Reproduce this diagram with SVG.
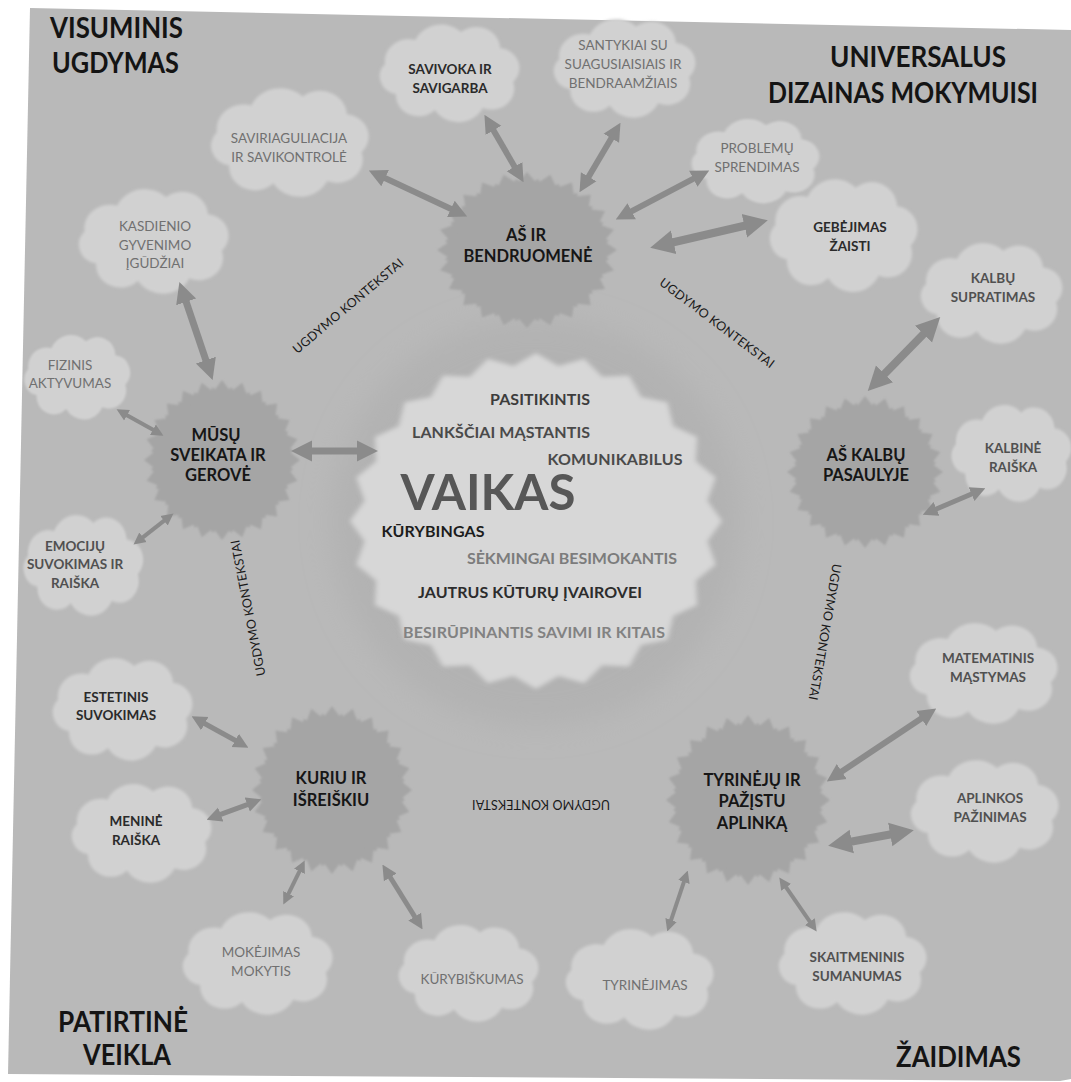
<svg xmlns="http://www.w3.org/2000/svg" xmlns:xlink="http://www.w3.org/1999/xlink" width="1071" height="1082" viewBox="0 0 1071 1082">
<defs>
<style>
text{font-family:Lato,"Open Sans","Liberation Sans",sans-serif;}
.title{font-size:28px;font-weight:bold;fill:#141414;}
.star-t{font-size:16.5px;font-weight:bold;fill:#161616;text-anchor:middle;}
.c{font-size:13.5px;text-anchor:middle;}
.cb{font-weight:bold;}
.k1{fill:#2a2a2a;}
.k2{fill:#505050;}
.k3{fill:#707070;}
.ctx{font-size:12.5px;fill:#1a1a1a;text-anchor:middle;}
.cl{fill:#d1d1d1;filter:url(#soft);}
.st{fill:#a5a5a5;filter:url(#soft);}
.v{font-size:16px;font-weight:bold;text-anchor:middle;}
.arr{stroke:#8b8b8b;fill:none;marker-start:url(#ah);marker-end:url(#ah);}
</style>
<filter id="soft" x="-10%" y="-10%" width="120%" height="120%"><feGaussianBlur stdDeviation="1.4"/></filter>
<filter id="halo" x="-30%" y="-30%" width="160%" height="160%"><feGaussianBlur stdDeviation="14"/></filter>
<marker id="ah" viewBox="0 0 10 10" refX="0.5" refY="5" markerWidth="3" markerHeight="3.4" markerUnits="strokeWidth" orient="auto-start-reverse"><path d="M0,0 L10,5 L0,10 Z" fill="#8b8b8b"/></marker>
<path id="cloud" d="M-48,22 A18,18 0 0 1 -58,-8 A22,22 0 0 1 -30,-32 A26,26 0 0 1 12,-40 A22,22 0 0 1 48,-24 A20,20 0 0 1 60,10 A21,21 0 0 1 32,36 A25,25 0 0 1 -12,38 A21,21 0 0 1 -48,22 Z"/>
<polygon id="star1" points="100,0 85.3,11.2 96.6,25.9 79.5,32.9 86.6,50 68.2,52.4 70.7,70.7 52.4,68.2 50,86.6 32.9,79.5 25.9,96.6 11.2,85.3 0,100 -11.2,85.3 -25.9,96.6 -32.9,79.5 -50,86.6 -52.4,68.2 -70.7,70.7 -68.2,52.4 -86.6,50 -79.5,32.9 -96.6,25.9 -85.3,11.2 -100,0 -85.3,-11.2 -96.6,-25.9 -79.5,-32.9 -86.6,-50 -68.2,-52.4 -70.7,-70.7 -52.4,-68.2 -50,-86.6 -32.9,-79.5 -25.9,-96.6 -11.2,-85.3 0,-100 11.2,-85.3 25.9,-96.6 32.9,-79.5 50,-86.6 52.4,-68.2 70.7,-70.7 68.2,-52.4 86.6,-50 79.5,-32.9 96.6,-25.9 85.3,-11.2"/>
<g id="star">
<use href="#star1"/>
<use href="#star1" transform="rotate(7.5) scale(0.92)"/>
</g>
<polygon id="burst" points="100,0 92.2,12.1 96.6,25.9 85.9,35.6 86.6,50 73.8,56.6 70.7,70.7 56.6,73.8 50,86.6 35.6,85.9 25.9,96.6 12.1,92.2 0,100 -12.1,92.2 -25.9,96.6 -35.6,85.9 -50,86.6 -56.6,73.8 -70.7,70.7 -73.8,56.6 -86.6,50 -85.9,35.6 -96.6,25.9 -92.2,12.1 -100,0 -92.2,-12.1 -96.6,-25.9 -85.9,-35.6 -86.6,-50 -73.8,-56.6 -70.7,-70.7 -56.6,-73.8 -50,-86.6 -35.6,-85.9 -25.9,-96.6 -12.1,-92.2 0,-100 12.1,-92.2 25.9,-96.6 35.6,-85.9 50,-86.6 56.6,-73.8 70.7,-70.7 73.8,-56.6 86.6,-50 85.9,-35.6 96.6,-25.9 92.2,-12.1"/>
</defs>

<rect x="0" y="0" width="1071" height="1082" fill="#ffffff"/>
<polygon points="30,8 1071,30 1071,1079 1060,1081 8,1074" fill="#b9b9b9"/>
<circle cx="536" cy="522" r="205" fill="#b2b2b2" filter="url(#halo)"/>

<g id="titles">
<text class="title" x="50" y="38" textLength="133" lengthAdjust="spacingAndGlyphs">VISUMINIS</text>
<text class="title" x="52" y="73" textLength="127" lengthAdjust="spacingAndGlyphs">UGDYMAS</text>
<text class="title" x="830" y="67" textLength="176" lengthAdjust="spacingAndGlyphs">UNIVERSALUS</text>
<text class="title" x="768" y="103" font-size="25" textLength="270" lengthAdjust="spacingAndGlyphs">DIZAINAS MOKYMUISI</text>
<text class="title" x="58" y="1032" textLength="130" lengthAdjust="spacingAndGlyphs">PATIRTINĖ</text>
<text class="title" x="83" y="1065" textLength="88" lengthAdjust="spacingAndGlyphs">VEIKLA</text>
<text class="title" x="896" y="1067" textLength="125" lengthAdjust="spacingAndGlyphs">ŽAIDIMAS</text>
</g>

<g id="contexts">
<text class="ctx" transform="translate(348,306) rotate(-40)" dy="0.35em" textLength="140">UGDYMO KONTEKSTAI</text>
<text class="ctx" transform="translate(717,323) rotate(37)" dy="0.35em" textLength="140">UGDYMO KONTEKSTAI</text>
<text class="ctx" transform="translate(825,632) rotate(100)" dy="0.35em" textLength="138">UGDYMO KONTEKSTAI</text>
<text class="ctx" transform="translate(248,608) rotate(-101)" dy="0.35em" textLength="138">UGDYMO KONTEKSTAI</text>
<text class="ctx" transform="translate(541,804) rotate(180)" dy="0.35em" textLength="138">UGDYMO KONTEKSTAI</text>
</g>

<g id="vaikas">
<use href="#burst" transform="translate(536,521) scale(1.86,1.68)" fill="#d7d7d7" filter="url(#soft)"/>
<text class="v" x="540" y="405" fill="#3c3c3c" textLength="100">PASITIKINTIS</text>
<text class="v" x="501" y="438" fill="#4a4a4a" textLength="178">LANKŠČIAI MĄSTANTIS</text>
<text class="v" x="615" y="465" fill="#4a4a4a" textLength="135">KOMUNIKABILUS</text>
<text x="488" y="510" font-size="50" font-weight="bold" fill="#575757" text-anchor="middle" textLength="175" lengthAdjust="spacingAndGlyphs">VAIKAS</text>
<text class="v" x="433" y="537" fill="#1c1c1c" textLength="103">KŪRYBINGAS</text>
<text class="v" x="572" y="564" fill="#7c7c7c" textLength="210">SĖKMINGAI BESIMOKANTIS</text>
<text class="v" x="530" y="598" fill="#2c2c2c" textLength="224">JAUTRUS KŪTURŲ ĮVAIROVEI</text>
<text class="v" x="534" y="638" fill="#828282" textLength="262">BESIRŪPINANTIS SAVIMI IR KITAIS</text>
</g>

<g id="star-bendruomene">
<use href="#star" class="st" transform="translate(527,250) scale(0.9,0.78)"/>
<text class="star-t" x="526" y="241">AŠ IR</text>
<text class="star-t" x="528" y="262">BENDRUOMENĖ</text>
</g>
<g id="star-sveikata">
<use href="#star" class="st" transform="translate(222,460) scale(0.78,0.8)"/>
<text class="star-t" x="216" y="441">MŪSŲ</text>
<text class="star-t" x="218" y="461">SVEIKATA IR</text>
<text class="star-t" x="218" y="481">GEROVĖ</text>
</g>
<g id="star-kalbu">
<use href="#star" class="st" transform="translate(865,472) scale(0.78,0.76)"/>
<text class="star-t" x="866" y="461">AŠ KALBŲ</text>
<text class="star-t" x="866" y="481">PASAULYJE</text>
</g>
<g id="star-kuriu">
<use href="#star" class="st" transform="translate(332,790) scale(0.8,0.84)"/>
<text class="star-t" x="331" y="784">KURIU IR</text>
<text class="star-t" x="331" y="806">IŠREIŠKIU</text>
</g>
<g id="star-tyrineju">
<use href="#star" class="st" transform="translate(748,800) scale(0.82,0.85)"/>
<text class="star-t" x="752" y="786">TYRINĖJŲ IR</text>
<text class="star-t" x="752" y="807">PAŽĮSTU</text>
<text class="star-t" x="752" y="829">APLINKĄ</text>
</g>

<g id="cloud-savivoka">
<use href="#cloud" class="cl" transform="translate(448,72) scale(1.085,1.0)"/>
<text class="c cb k1" x="450" y="74">SAVIVOKA IR</text>
<text class="c cb k1" x="450" y="93">SAVIGARBA</text>
</g>
<g id="cloud-santykiai">
<use href="#cloud" class="cl" transform="translate(623,67) scale(1.1,1.01)"/>
<text class="c k3" x="623" y="50">SANTYKIAI SU</text>
<text class="c k3" x="623" y="69">SUAGUSIAISIAIS IR</text>
<text class="c k3" x="623" y="88">BENDRAAMŽIAIS</text>
</g>
<g id="cloud-saviriaguliacija">
<use href="#cloud" class="cl" transform="translate(288,141) scale(1.225,1.113)"/>
<text class="c k3" x="289" y="143">SAVIRIAGULIACIJA</text>
<text class="c k3" x="289" y="162">IR SAVIKONTROLĖ</text>
</g>
<g id="cloud-problemu">
<use href="#cloud" class="cl" transform="translate(754,160) scale(0.992,0.866)"/>
<text class="c k3" x="757" y="153">PROBLEMŲ</text>
<text class="c k3" x="757" y="172">SPRENDIMAS</text>
</g>
<g id="cloud-gebejimas">
<use href="#cloud" class="cl" transform="translate(842,234) scale(1.147,1.155)"/>
<text class="c cb k1" x="850" y="232">GEBĖJIMAS</text>
<text class="c cb k1" x="850" y="251">ŽAISTI</text>
</g>
<g id="cloud-kasdienio">
<use href="#cloud" class="cl" transform="translate(152,240) scale(1.163,1.072)"/>
<text class="c k3" x="155" y="231">KASDIENIO</text>
<text class="c k3" x="155" y="250">GYVENIMO</text>
<text class="c k3" x="155" y="268">ĮGŪDŽIAI</text>
</g>
<g id="cloud-kalbu-supratimas">
<use href="#cloud" class="cl" transform="translate(990,292) scale(1.1,1.03)"/>
<text class="c cb k2" x="993" y="283">KALBŲ</text>
<text class="c cb k2" x="993" y="302">SUPRATIMAS</text>
</g>
<g id="cloud-fizinis">
<use href="#cloud" class="cl" transform="translate(76,376) scale(0.822,0.866)"/>
<text class="c k3" x="70" y="370">FIZINIS</text>
<text class="c k3" x="70" y="388">AKTYVUMAS</text>
</g>
<g id="cloud-kalbine">
<use href="#cloud" class="cl" transform="translate(1010,452) scale(0.93,0.99)"/>
<text class="c cb k2" x="1013" y="453">KALBINĖ</text>
<text class="c cb k2" x="1013" y="472">RAIŠKA</text>
</g>
<g id="cloud-emociju">
<use href="#cloud" class="cl" transform="translate(82,564) scale(0.93,1.03)"/>
<text class="c cb k2" x="75" y="551">EMOCIJŲ</text>
<text class="c cb k2" x="75" y="569">SUVOKIMAS IR</text>
<text class="c cb k2" x="75" y="588">RAIŠKA</text>
</g>
<g id="cloud-estetinis">
<use href="#cloud" class="cl" transform="translate(121,708) scale(1.085,1.05)"/>
<text class="c cb k1" x="116" y="702">ESTETINIS</text>
<text class="c cb k1" x="116" y="720">SUVOKIMAS</text>
</g>
<g id="cloud-menine">
<use href="#cloud" class="cl" transform="translate(140,832) scale(1.085,1.01)"/>
<text class="c cb k1" x="136" y="826">MENINĖ</text>
<text class="c cb k1" x="136" y="845">RAIŠKA</text>
</g>
<g id="cloud-mokejimas">
<use href="#cloud" class="cl" transform="translate(256,962) scale(1.163,1.05)"/>
<text class="c k3" x="261" y="957">MOKĖJIMAS</text>
<text class="c k3" x="261" y="976">MOKYTIS</text>
</g>
<g id="cloud-kurybiskumas">
<use href="#cloud" class="cl" transform="translate(467,972) scale(1.085,0.99)"/>
<text class="c k3" x="472" y="984">KŪRYBIŠKUMAS</text>
</g>
<g id="cloud-tyrinejimas">
<use href="#cloud" class="cl" transform="translate(638,978) scale(1.147,1.03)"/>
<text class="c k3" x="645" y="990" font-size="14.5">TYRINĖJIMAS</text>
</g>
<g id="cloud-skaitmeninis">
<use href="#cloud" class="cl" transform="translate(851,962) scale(1.147,1.05)"/>
<text class="c cb k2" x="857" y="962">SKAITMENINIS</text>
<text class="c cb k2" x="857" y="981">SUMANUMAS</text>
</g>
<g id="cloud-matematinis">
<use href="#cloud" class="cl" transform="translate(982,672) scale(1.147,1.03)"/>
<text class="c cb k2" x="988" y="663">MATEMATINIS</text>
<text class="c cb k2" x="988" y="682">MĄSTYMAS</text>
</g>
<g id="cloud-aplinkos">
<use href="#cloud" class="cl" transform="translate(983,810) scale(1.147,1.05)"/>
<text class="c cb k2" x="990" y="803">APLINKOS</text>
<text class="c cb k2" x="990" y="822">PAŽINIMAS</text>
</g>

<g id="connectors">
<line class="arr" stroke-width="6" x1="384.3" y1="177.7" x2="451.7" y2="209.3"/>
<line class="arr" stroke-width="6" x1="493" y1="129.6" x2="515" y2="167.4"/>
<line class="arr" stroke-width="6" x1="611.8" y1="137.5" x2="588.2" y2="177.5"/>
<line class="arr" stroke-width="6" x1="694.1" y1="178.4" x2="630.9" y2="211.6"/>
<line class="arr" stroke-width="8" x1="745.6" y1="225.5" x2="672.4" y2="242.5"/>
<line class="arr" stroke-width="7" x1="185.8" y1="300.9" x2="206.2" y2="361.1"/>
<line class="arr" stroke-width="4" x1="126.5" y1="414.9" x2="153.5" y2="430.1"/>
<line class="arr" stroke-width="7" x1="311" y1="451" x2="358" y2="451"/>
<line class="arr" stroke-width="4" x1="142.5" y1="537.6" x2="164.5" y2="520.4"/>
<line class="arr" stroke-width="8" x1="924.3" y1="333.2" x2="883.7" y2="374.8"/>
<line class="arr" stroke-width="5" x1="972.2" y1="493.8" x2="935.8" y2="509.2"/>
<line class="arr" stroke-width="5" x1="204.1" y1="723.2" x2="235.9" y2="740.8"/>
<line class="arr" stroke-width="5" x1="220" y1="814.7" x2="248" y2="804.3"/>
<line class="arr" stroke-width="4" x1="288.3" y1="894.2" x2="299.7" y2="870.8"/>
<line class="arr" stroke-width="5" x1="415.1" y1="917.3" x2="389.9" y2="876.7"/>
<line class="arr" stroke-width="6" x1="922" y1="718" x2="841" y2="772"/>
<line class="arr" stroke-width="8" x1="891.4" y1="834.3" x2="850.6" y2="841.7"/>
<line class="arr" stroke-width="4" x1="670.9" y1="920.6" x2="684.1" y2="881.4"/>
<line class="arr" stroke-width="4" x1="810.2" y1="922.1" x2="785.8" y2="886.9"/>
</g>
</svg>
